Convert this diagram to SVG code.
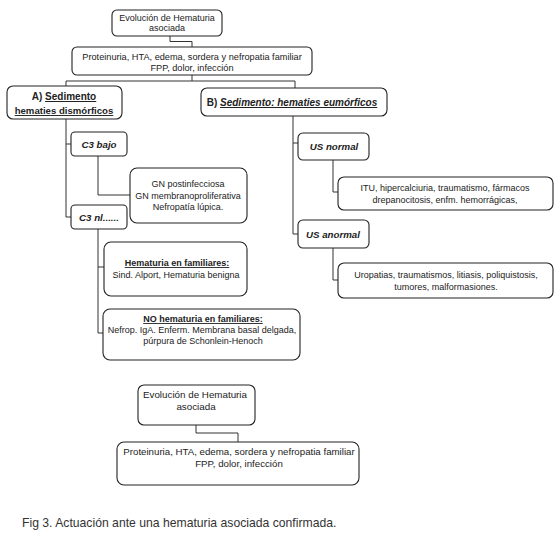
<svg xmlns="http://www.w3.org/2000/svg" width="559" height="537" viewBox="0 0 559 537">
<style>
.box{fill:#fff;stroke:#222;stroke-width:1.1}
.c{fill:none;stroke:#333;stroke-width:1}
text{font-family:"Liberation Sans",Arial,sans-serif;fill:#222;text-anchor:middle}
.t{font-size:9px}
.b{font-weight:bold}
.bi{font-weight:bold;font-style:italic}
.u{text-decoration:underline}
</style>
<rect width="559" height="537" fill="#fff"/>
<g id="connectors">
<path class="c" d="M170 36V41.5H192V47"/>
<path class="c" d="M192 75V81M66 86V81H295V88"/>
<path class="c" d="M66 119V217H71M66 144H71"/>
<path class="c" d="M98 156V195H130"/>
<path class="c" d="M98 229V333H104M98 267H104"/>
<path class="c" d="M293 116V234H298M293 143H298"/>
<path class="c" d="M333 160V192H338"/>
<path class="c" d="M333 248V280H338"/>
<path class="c" d="M196 425V433H238V442"/>
</g>
<g id="n-evol">
<rect class="box" x="112" y="10" width="110" height="26" rx="5"/>
<text class="t" x="167" y="21">Evolución de Hematuria</text>
<text class="t" x="167" y="31">asociada</text>
</g>
<g id="n-prot">
<rect class="box" x="72" y="47" width="240" height="28" rx="5"/>
<text x="192" y="60" style="font-size:9.2px">Proteinuria, HTA, edema, sordera y nefropatia familiar</text>
<text x="192" y="70.5" style="font-size:9.2px">FPP, dolor, infección</text>
</g>
<g id="n-a">
<rect class="box" x="7" y="86" width="115" height="33" rx="6"/>
<text class="b" x="64" y="100" style="font-size:10px">A) <tspan class="u">Sedimento</tspan></text>
<text class="b u" x="64" y="114" style="font-size:9.6px">hematies dismórficos</text>
</g>
<g id="n-b">
<rect class="box" x="201" y="88" width="186" height="28" rx="6"/>
<text class="b" x="292" y="106" style="font-size:10px">B) <tspan class="bi u">Sedimento: hematies eumórficos</tspan></text>
</g>
<g id="n-c3bajo">
<rect class="box" x="71" y="132" width="56" height="24" rx="4"/>
<text class="bi" x="99" y="148" style="font-size:9.7px">C3 bajo</text>
</g>
<g id="n-gn">
<rect class="box" x="130" y="168" width="117" height="55" rx="7"/>
<text class="t" x="188" y="187">GN postinfecciosa</text>
<text class="t" x="188" y="198.5">GN membranoproliferativa</text>
<text class="t" x="188" y="210">Nefropatía lúpica.</text>
</g>
<g id="n-c3nl">
<rect class="box" x="71" y="205" width="56" height="24" rx="4"/>
<text class="bi" x="99" y="220.5" style="font-size:9.7px">C3  nl......</text>
</g>
<g id="n-hemfam">
<rect class="box" x="104" y="242" width="143" height="54" rx="7"/>
<text class="t b u" x="177" y="266">Hematuria en familiares:</text>
<text class="t" x="176" y="277.5">Sind. Alport, Hematuria benigna</text>
</g>
<g id="n-nohem">
<rect class="box" x="103" y="309" width="197" height="51" rx="7"/>
<text class="t b u" x="203" y="322">NO hematuria en familiares:</text>
<text class="t" x="202" y="333">Nefrop. IgA. Enferm. Membrana basal delgada,</text>
<text class="t" x="203" y="344">púrpura de Schonlein-Henoch</text>
</g>
<g id="n-usnormal">
<rect class="box" x="298" y="133" width="71" height="27" rx="5"/>
<text class="bi" x="334" y="150" style="font-size:9.7px">US normal</text>
</g>
<g id="n-itu">
<rect class="box" x="338" y="177" width="215" height="33" rx="6"/>
<text class="t" x="445" y="191">ITU, hipercalciuria, traumatismo, fármacos</text>
<text class="t" x="445" y="202.5">drepanocitosis, enfm. hemorrágicas,</text>
</g>
<g id="n-usanormal">
<rect class="box" x="298" y="220" width="71" height="28" rx="5"/>
<text class="bi" x="333" y="238" style="font-size:9.7px">US anormal</text>
</g>
<g id="n-uro">
<rect class="box" x="338" y="263" width="215" height="35" rx="6"/>
<text class="t" x="446" y="278">Uropatias, traumatismos, litiasis, poliquistosis,</text>
<text class="t" x="446" y="290">tumores, malformasiones.</text>
</g>
<g id="n-evol2">
<rect class="box" x="138" y="385" width="117" height="40" rx="6"/>
<text x="195" y="398" style="font-size:9.8px">Evolución de Hematuria</text>
<text x="196" y="410" style="font-size:9.8px">asociada</text>
</g>
<g id="n-prot2">
<rect class="box" x="117" y="442" width="242" height="43" rx="7"/>
<text x="239" y="455" style="font-size:9.7px">Proteinuria, HTA, edema, sordera y nefropatia familiar</text>
<text x="239" y="467" style="font-size:9.7px">FPP, dolor, infección</text>
</g>
<text x="22" y="527" style="font-size:12.2px;text-anchor:start;fill:#333">Fig 3. Actuación ante una hematuria asociada confirmada.</text>
</svg>
